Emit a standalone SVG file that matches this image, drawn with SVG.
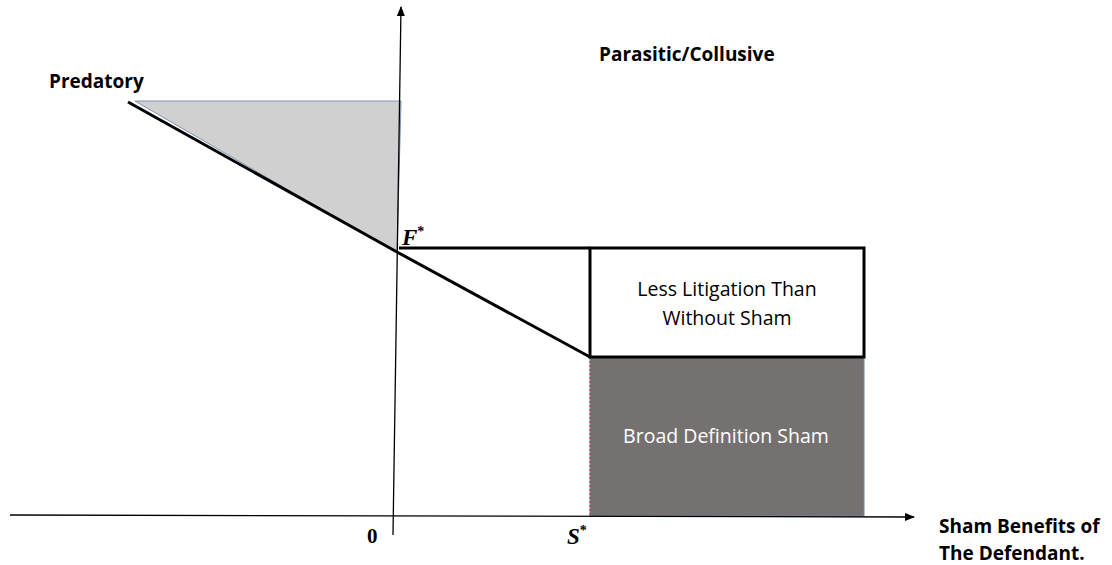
<svg xmlns="http://www.w3.org/2000/svg" width="1112" height="565" viewBox="0 0 1112 565">
<style>
.lbl{font-family:"Open Sans","Liberation Sans",sans-serif;font-weight:bold;font-size:19px;fill:#000}
.box{font-family:"Open Sans","Liberation Sans",sans-serif;font-size:19.5px;text-anchor:middle}
.math{font-family:"Liberation Serif",serif;font-weight:bold;font-style:italic;font-size:23px}
.thick{stroke:#000;stroke-width:3;fill:none}
</style>
<defs>
<marker id="ah" markerWidth="10" markerHeight="8" refX="9" refY="4" orient="auto" markerUnits="userSpaceOnUse">
<path d="M0,0 L10,4 L0,8 Z" fill="#000"/>
</marker>
</defs>
<rect width="1112" height="565" fill="#fff"/>
<g id="predatory-region">
<polygon points="135,101 401,101 397,253" fill="#d0d0d0" stroke="#7f93b0" stroke-width="1"/>
</g>
<g id="broad-sham">
<rect x="590" y="357" width="274" height="159" fill="#767171" stroke="#6f86a8" stroke-width="1"/>
<line x1="590" y1="357" x2="590" y2="516" stroke="#d03030" stroke-width="1" stroke-dasharray="2,2"/>
<text class="box" x="726" y="443" fill="#fff">Broad Definition Sham</text>
</g>
<g id="less-litigation">
<rect x="590" y="248" width="274" height="109" fill="#fff" stroke="#000" stroke-width="3"/>
<text class="box" x="727" y="296" fill="#000">Less Litigation Than</text>
<text class="box" x="727" y="325" fill="#000">Without Sham</text>
</g>
<g id="connectors">
<line x1="10" y1="515" x2="914" y2="517" stroke="#000" stroke-width="1.3" marker-end="url(#ah)"/>
<line x1="393" y1="535" x2="401" y2="7" stroke="#000" stroke-width="1.3" marker-end="url(#ah)"/>
<polyline class="thick" points="128,102 397,252 590,357"/>
<line class="thick" x1="399" y1="248" x2="590" y2="248"/>
</g>
<g id="labels">
<text class="lbl" x="49" y="88">Predatory</text>
<text class="lbl" x="599" y="61">Parasitic/Collusive</text>
<text class="math" x="402" y="245">F<tspan font-size="14" dy="-9" font-style="normal">*</tspan></text>
<text class="math" x="567" y="544">S<tspan font-size="14" dy="-9" font-style="normal">*</tspan></text>
<text font-family="Liberation Serif,serif" font-weight="bold" font-size="21" x="367" y="543">0</text>
<text class="lbl" x="939" y="533">Sham Benefits of</text>
<text class="lbl" x="939" y="560">The Defendant.</text>
</g>
</svg>
